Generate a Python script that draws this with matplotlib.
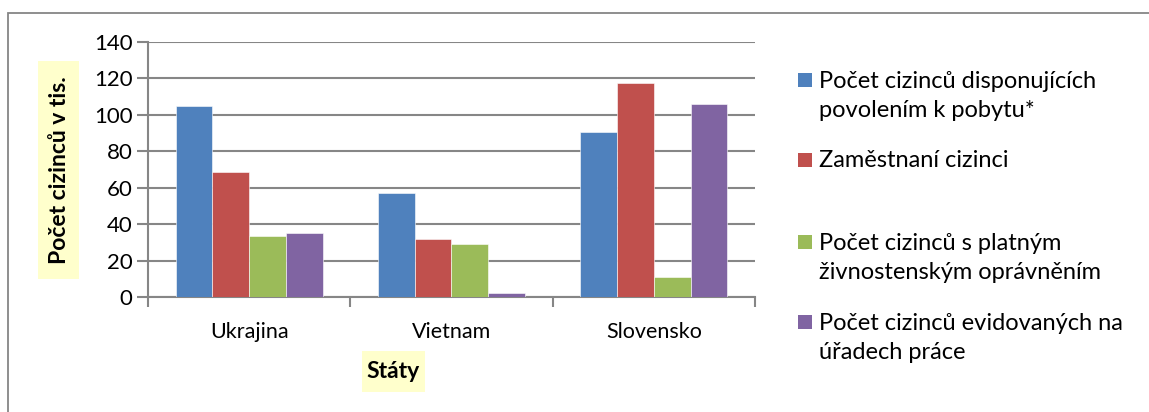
import matplotlib
matplotlib.use("Agg")
import matplotlib.pyplot as plt
from matplotlib.patches import Rectangle
import numpy as np

categories = ["Ukrajina", "Vietnam", "Slovensko"]
series_names = [
    "Počet cizinců disponujících\npovolením k pobytu*",
    "Zaměstnaní cizinci",
    "Počet cizinců s platným\nživnostenským oprávněním",
    "Počet cizinců evidovaných na\núřadech práce",
]
povoleni = [105, 57, 90.6]
zamestnani = [68.6, 31.7, 117.5]
zivnost = [33.3, 29.1, 10.8]
urady = [35, 2.4, 106.2]
series_values = [povoleni, zamestnani, zivnost, urady]
colors = ["#4F81BD", "#C0504D", "#9BBB59", "#8064A2"]
yticks = [0, 20, 40, 60, 80, 100, 120, 140]

FONT = ["Lato", "DejaVu Sans"]
plt.rcParams["font.family"] = FONT
FS = 16

W, H = 1149, 412
fig = plt.figure(figsize=(W / 100, H / 100), dpi=100)
fig.patch.set_facecolor("white")

# outer chart frame (cut off on right and bottom)
fig.add_artist(Rectangle((8 / W, -0.05), 1.2, (H - 13) / H + 0.05, transform=fig.transFigure,
                         fill=False, edgecolor="#868686", linewidth=1.3))

ax = fig.add_axes([148 / W, (H - 297) / H, 607 / W, 255 / H])
x = np.arange(len(categories))
bw = 1 / 5.5
for i, (vals, c) in enumerate(zip(series_values, colors)):
    ax.bar(x + (i - 1.5) * bw, vals, width=bw, color=c, edgecolor="white", linewidth=0.4, zorder=3)

ax.set_xlim(-0.5, 2.5)
ax.set_ylim(0, 140)
ax.set_yticks(yticks)
ax.set_yticklabels([str(t) for t in yticks], fontsize=FS)
ax.yaxis.grid(True, color="#868686", linewidth=1.5, zorder=0)
ax.tick_params(axis="y", length=8, width=1.5, color="#868686", pad=3)
ax.set_xticks([-0.5, 0.5, 1.5, 2.5])
ax.set_xticklabels([])
ax.set_xticks(x, minor=True)
ax.set_xticklabels(categories, minor=True, fontsize=15.5)
ax.tick_params(axis="x", which="major", length=7, width=1.5, color="#868686", direction="out")
ax.tick_params(axis="x", which="minor", length=0, pad=18)
for s in ["top", "right"]:
    ax.spines[s].set_visible(False)
for s in ["left", "bottom"]:
    ax.spines[s].set_color("#868686")
    ax.spines[s].set_linewidth(1.5)

# y axis title with yellow box
fig.add_artist(Rectangle((38 / W, 1 - 279 / H), 41 / W, 218 / H, transform=fig.transFigure,
                         facecolor="#FFFFCC", edgecolor="none"))
fig.text(59 / W, 1 - 170 / H, "Počet cizinců v tis.", rotation=90, ha="center", va="center",
         fontsize=16.5, fontweight="bold")
# x axis title
fig.add_artist(Rectangle((362 / W, 1 - 392 / H), 63 / W, 41 / H, transform=fig.transFigure,
                         facecolor="#FFFFCC", edgecolor="none"))
fig.text(393.5 / W, 1 - 371 / H, "Státy", ha="center", va="center", fontsize=16.5, fontweight="bold")

# legend
leg_y = [96, 160, 258, 338]
for name, c, yy in zip(series_names, colors, leg_y):
    nlines = name.count("\n") + 1
    first_y = yy - (nlines - 1) * 16
    fig.add_artist(Rectangle((798 / W, 1 - (first_y + 7) / H), 14 / W, 14 / H,
                             transform=fig.transFigure, facecolor=c, edgecolor="none"))
    fig.text(819 / W, 1 - yy / H, name, ha="left", va="center", fontsize=17, linespacing=1.5)

fig.savefig("out.png", dpi=100)
